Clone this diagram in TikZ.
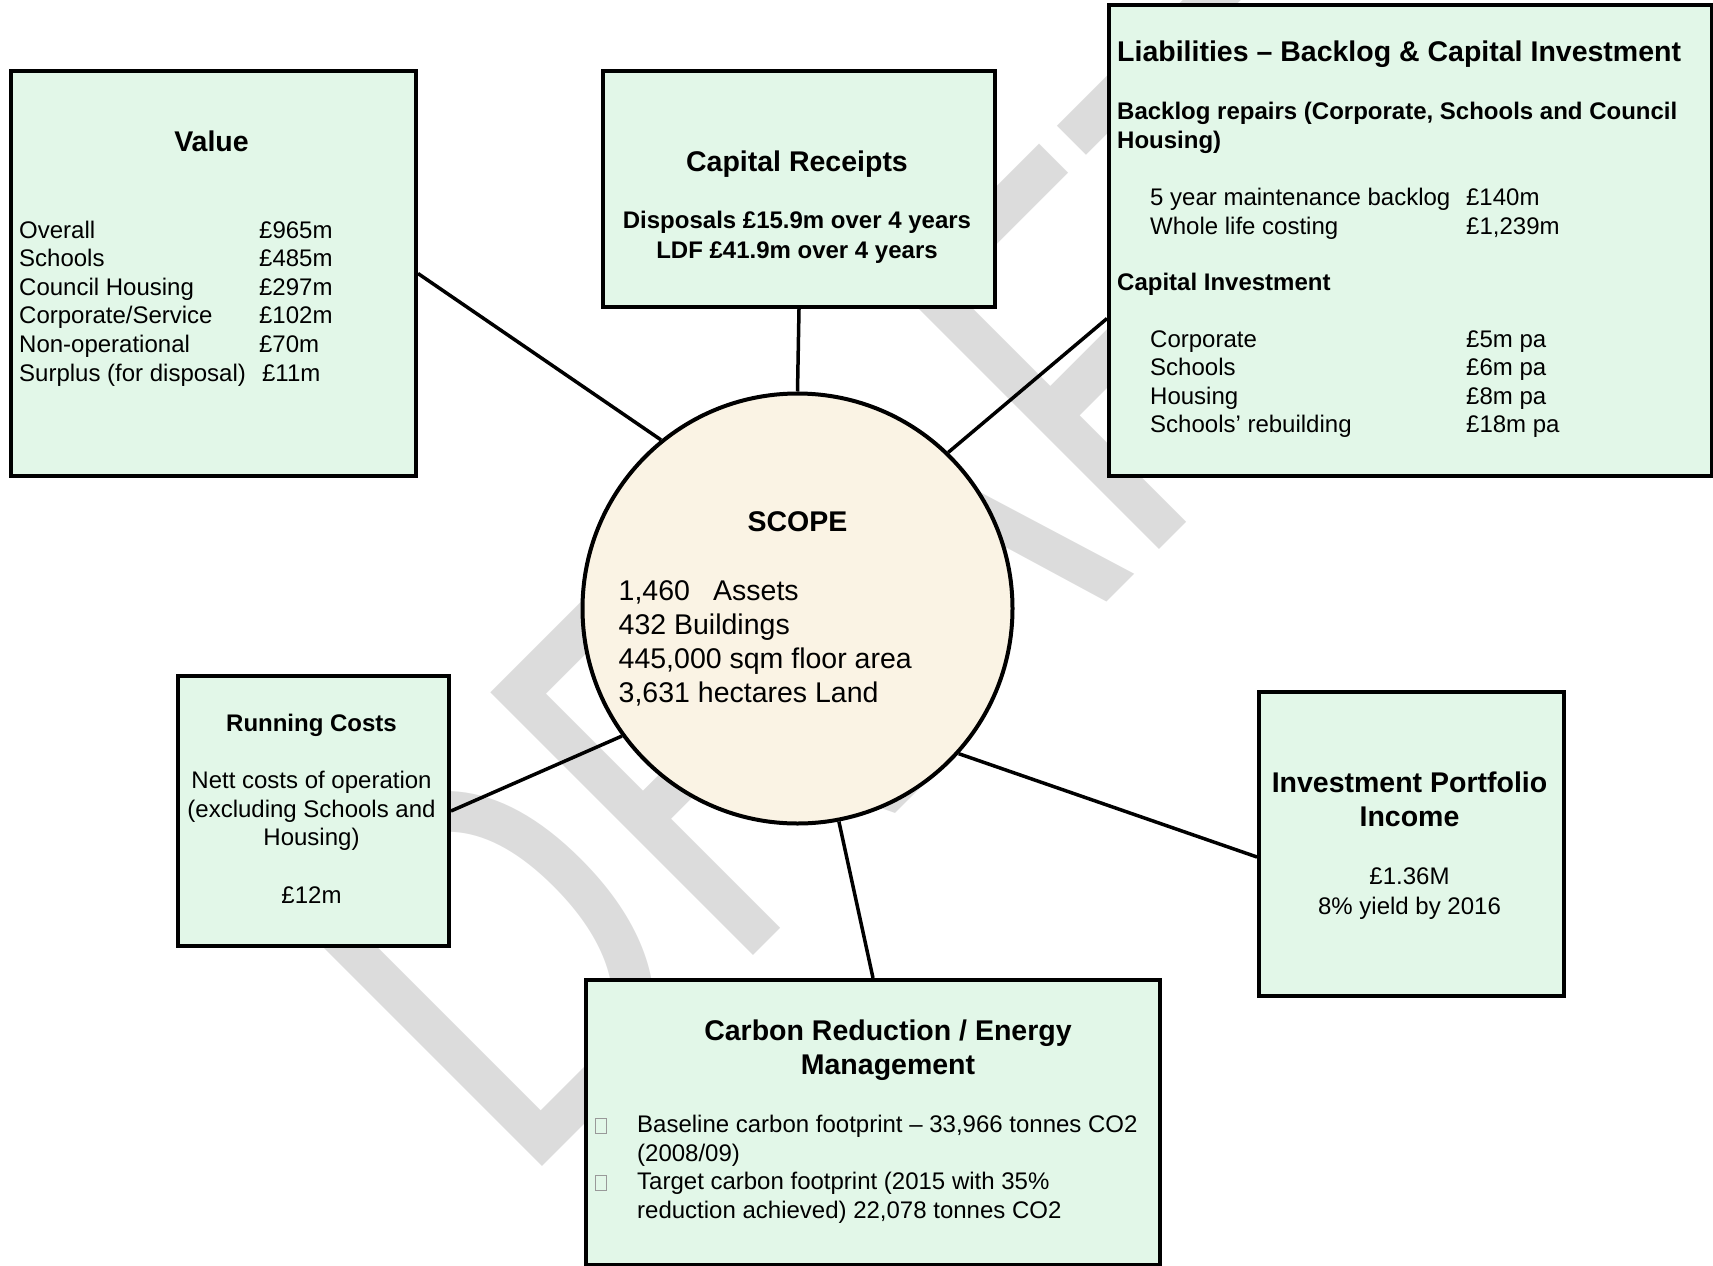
\documentclass[tikz,border=0pt]{standalone}
\usepackage{fontspec}
\setmainfont{Liberation Sans}
\usepackage{graphicx}
\usepackage{xcolor}

\definecolor{panelgreen}{RGB}{226,247,232}
\definecolor{scopecream}{RGB}{250,243,228}
\definecolor{draftgray}{RGB}{220,220,220}

\newcommand{\tickbox}{\textcolor{black!40}{\fboxsep=0pt\fboxrule=1pt\framebox[12pt]{\rule{0pt}{14pt}}}}

\begin{document}
\begin{tikzpicture}[x=1pt, y=-1pt,
  panel/.style={draw, line width=4pt, fill=panelgreen, inner sep=0pt, anchor=north west},
  spoke/.style={line width=3.5pt},
  head/.style={inner sep=0pt, anchor=base, font=\fontsize{28.5}{34.5}\selectfont\bfseries},
  subhead/.style={inner sep=0pt, anchor=base west, font=\fontsize{24}{29.5}\selectfont\bfseries},
  body/.style={inner sep=0pt, anchor=base west, font=\fontsize{24}{28.6}\selectfont},
  bigbody/.style={inner sep=0pt, anchor=base west, font=\fontsize{28.5}{34.2}\selectfont}
]
\useasboundingbox (0,0) rectangle (1713,1266);

% watermark
\node[anchor=base west, rotate=45, inner sep=0pt, text=draftgray,
  font=\fontsize{540}{540}\selectfont] (draft) at (518.5,1190.5) {\scalebox{0.765}[1]{DRAFT}};

% panels
\node[panel, minimum width=405pt, minimum height=405pt] (value) at (9,69) {};
\node[panel, minimum width=392pt, minimum height=236pt] (capr) at (601,69) {};
\node[panel, minimum width=603pt, minimum height=471pt] (liab) at (1107,3) {};
\node[panel, minimum width=271pt, minimum height=270pt] (running) at (176,674) {};
\node[panel, minimum width=305pt, minimum height=304pt] (invest) at (1257,690) {};
\node[panel, minimum width=574pt, minimum height=285pt] (carbon) at (584,978) {};
\node[draw, circle, line width=4pt, fill=scopecream, inner sep=0pt, minimum size=430pt] (scope) at (797.5,608.5) {};

% spokes
\draw[spoke] (value.east) -- (scope.129);
\draw[spoke] (capr.south) -- (scope.north);
\draw[spoke] ([yshift=-78pt]liab.west) -- (scope.46);
\draw[spoke] (running.east) -- (scope.216);
\draw[spoke] ([yshift=-13pt]invest.west) -- (scope.318);
\draw[spoke] (carbon.north) -- (scope.281);

% value
\node[head] (valuehd) at (211.5,151) {Value};
\node[body] (valuetx) at (19,238) {\begin{tabular}[t]{@{}p{240pt}@{}l@{}}
Overall & £965m\\
Schools & £485m\\
Council Housing & £297m\\
Corporate/Service & £102m\\
Non-operational & £70m\\
Surplus (for disposal) & \hspace{3pt}£11m
\end{tabular}};

% capital receipts
\node[head] (caprhd) at (797,171) {Capital Receipts};
\node[subhead, anchor=base] (caprtx) at (797,228.5) {\begin{tabular}[t]{@{}c@{}}
Disposals £15.9m over 4 years\\
LDF £41.9m over 4 years
\end{tabular}};

% liabilities
\node[head, anchor=base west] (liabhd) at (1117,61) {Liabilities – Backlog \& Capital Investment};
\node[subhead] (backhd) at (1117,119) {\begin{tabular}[t]{@{}l@{}}
Backlog repairs (Corporate, Schools and Council\\
Housing)
\end{tabular}};
\node[body] (backtx) at (1150,205.5) {\begin{tabular}[t]{@{}p{316pt}@{}l@{}}
5 year maintenance backlog & £140m\\
Whole life costing & £1,239m
\end{tabular}};
\node[subhead] (invhd) at (1117,290.5) {Capital Investment};
\node[body] (invtx) at (1150,347) {\begin{tabular}[t]{@{}p{316pt}@{}l@{}}
Corporate & £5m pa\\
Schools & £6m pa\\
Housing & £8m pa\\
Schools’ rebuilding & £18m pa
\end{tabular}};

% scope
\node[head] (scopehd) at (797.5,531) {SCOPE};
\node[bigbody] (scopetx) at (618.5,600) {\begin{tabular}[t]{@{}l@{}}
\makebox[94.5pt][l]{1,460}Assets\\
432 Buildings\\
445,000 sqm floor area\\
3,631 hectares Land
\end{tabular}};

% running costs
\node[subhead, anchor=base] (runhd) at (311.5,731.6) {Running Costs};
\node[body, anchor=base] (runtx) at (311.5,788.6) {\begin{tabular}[t]{@{}c@{}}
Nett costs of operation\\
(excluding Schools and\\
Housing)\\
\\
£12m
\end{tabular}};

% investment portfolio
\node[head] (porthd) at (1409.5,792) {\begin{tabular}[t]{@{}c@{}}
Investment Portfolio\\
Income
\end{tabular}};
\node[body, anchor=base, font=\fontsize{24}{29.5}\selectfont] (porttx) at (1409.5,884.6) {\begin{tabular}[t]{@{}c@{}}
£1.36M\\
8\% yield by 2016
\end{tabular}};

% carbon reduction
\node[head] (carbhd) at (888,1040) {\begin{tabular}[t]{@{}c@{}}
Carbon Reduction / Energy\\
Management
\end{tabular}};
\node[body] (carbtx) at (595,1132.6) {\begin{tabular}[t]{@{}p{42pt}@{}l@{}}
\tickbox & Baseline carbon footprint – 33,966 tonnes CO2\\
 & (2008/09)\\
\tickbox & Target carbon footprint (2015 with 35\%\\
 & reduction achieved) 22,078 tonnes CO2
\end{tabular}};
\end{tikzpicture}
\end{document}
